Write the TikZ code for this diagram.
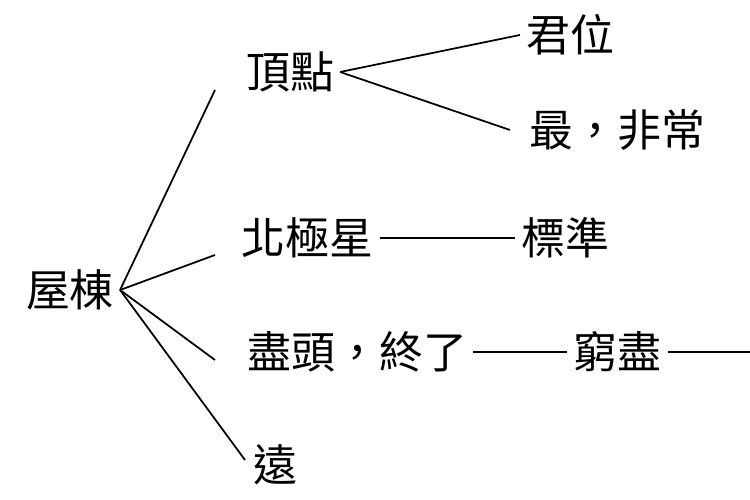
\documentclass[tikz,border=0pt]{standalone}
\usepackage{fontspec}
\newfontfamily\cjk{Noto Sans CJK TC}
\begin{document}
\begin{tikzpicture}[line width=1pt]
\tikzstyle{word}=[font=\cjk\fontsize{25}{25}\selectfont, inner sep=3pt, anchor=center]
\useasboundingbox (0,0) rectangle (15,10);

\node[word] (R)  at ( 1.40, 4.20) {屋棟};
\node[word] (A)  at ( 5.80, 8.56) {頂點};
\node[word] (A1) at (11.40, 9.30) {君位};
\node[word] (A2) at (12.35, 7.40) {最，非常};
\node[word] (B)  at ( 6.15, 5.24) {北極星};
\node[word] (B1) at (11.30, 5.24) {標準};
\node[word] (C)  at ( 7.15, 2.96) {盡頭，終了};
\node[word] (C1) at (12.35, 2.96) {窮盡};
\node[word] (D)  at ( 5.50, 0.70) {遠};
\coordinate (E) at (15.00, 2.96);

\draw (R.east) -- (4.30, 8.20);
\draw (R.east) -- (4.30, 4.90);
\draw (R.east) -- (4.30, 2.80);
\draw (R.east) -- (4.90, 0.80);
\draw (A.east) -- (A1.west);
\draw (A.east) -- (10.20, 7.40);
\draw (B.east) -- (B1.west);
\draw (C.east) -- (C1.west);
\draw (C1.east) -- (E);

\end{tikzpicture}
\end{document}
